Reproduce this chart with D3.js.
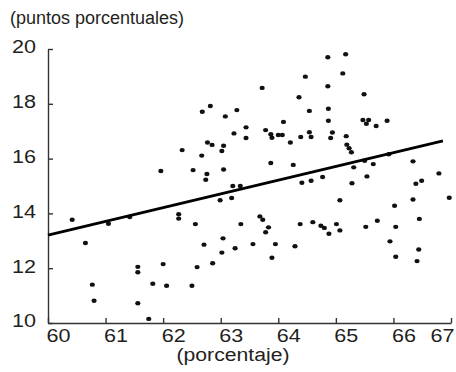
<!DOCTYPE html>
<html>
<head>
<meta charset="utf-8">
<script src="https://cdn.jsdelivr.net/npm/d3@7"></script>
<style>
  html, body { margin: 0; padding: 0; background: #fff; }
  svg { display: block; font-family: "Liberation Sans", Arial, sans-serif; }
</style>
</head>
<body>
<svg id="chart" width="456" height="372"></svg>
<script>
// Observations: x = percentage, y = percentage points
const xValues = [
  60.42, 61.05, 61.42, 60.65, 61.56, 61.56, 60.77, 61.82, 60.80, 61.56,
  61.75, 62.68, 62.82, 63.08, 63.28, 63.44, 63.23, 63.44, 62.77, 62.85,
  63.05, 63.02, 62.33, 62.67, 61.96, 62.52, 62.76, 62.74, 63.05, 63.21,
  63.34, 62.99, 63.19, 62.27, 62.27, 62.56, 63.35, 63.04, 62.71, 63.56,
  63.02, 63.25, 62.00, 62.59, 62.86, 62.06, 62.50, 64.86, 65.17, 65.12,
  64.47, 63.72, 64.86, 64.36, 64.54, 64.87, 64.87, 64.09, 63.78, 63.87,
  63.89, 64.00, 64.07, 64.21, 64.39, 64.54, 64.57, 64.94, 64.91, 65.18,
  65.19, 65.23, 65.27, 65.31, 63.87, 64.26, 64.41, 64.57, 64.77, 65.28,
  65.07, 63.68, 63.73, 63.83, 63.78, 64.38, 64.60, 64.74, 64.80, 64.88,
  65.01, 65.07, 63.95, 64.29, 63.89, 65.49, 65.47, 65.57, 65.53, 65.70,
  65.89, 65.50, 65.65, 65.54, 66.34, 66.79, 66.39, 66.49, 66.34, 66.97,
  66.02, 65.52, 65.72, 66.04, 66.45, 65.94, 66.04, 66.44, 66.41, 65.92
];
const yValues = [
  13.77, 13.62, 13.87, 12.92, 12.05, 11.85, 11.40, 11.43, 10.81, 10.72,
  10.15, 17.71, 17.92, 17.54, 17.77, 17.14, 16.92, 16.75, 16.59, 16.50,
  16.47, 16.28, 16.31, 16.11, 15.55, 15.58, 15.44, 15.23, 15.60, 15.00,
  15.00, 14.48, 14.56, 13.97, 13.81, 13.61, 13.61, 13.09, 12.86, 12.88,
  12.57, 12.73, 12.15, 12.04, 12.18, 11.36, 11.36, 19.70, 19.81, 19.11,
  18.99, 18.58, 18.64, 18.24, 17.74, 17.82, 17.38, 17.34, 17.04, 16.89,
  16.76, 16.86, 16.86, 16.59, 16.79, 16.96, 16.79, 16.95, 16.75, 16.82,
  16.51, 16.38, 16.23, 15.68, 15.84, 15.77, 15.12, 15.19, 15.33, 15.10,
  14.48, 13.89, 13.77, 13.49, 13.31, 13.61, 13.68, 13.55, 13.47, 13.26,
  13.61, 13.38, 12.88, 12.80, 12.38, 18.35, 17.41, 17.41, 17.27, 17.19,
  17.38, 15.92, 15.80, 15.35, 15.90, 15.46, 15.08, 15.19, 14.51, 14.57,
  14.28, 13.51, 13.73, 13.51, 13.80, 12.98, 12.42, 12.68, 12.26, 16.16
];

// Fitted trend line (endpoints)
const fitX = [60, 66.86];
const fitY = [13.21, 16.65];

const xTicks = [60, 61, 62, 63, 64, 65, 66, 67];
const yTicks = [10, 12, 14, 16, 18, 20];

const yUnitLabel = "(puntos porcentuales)";
const xUnitLabel = "(porcentaje)";

const svg = d3.select("#chart");
const textColor = "#231f20";
const axisColor = "#333";

const x = d3.scaleLinear().domain([60, 67]).range([48, 451]);
const y = d3.scaleLinear().domain([10, 20]).range([323, 49]);

// Axes
const xAxis = svg.append("g")
  .attr("transform", `translate(0,${y(10)})`)
  .call(d3.axisBottom(x).tickValues(xTicks).tickFormat(d3.format("d"))
    .tickSizeInner(-5).tickSizeOuter(0).tickPadding(0));

const yAxis = svg.append("g")
  .attr("transform", `translate(${x(60)},0)`)
  .call(d3.axisLeft(y).tickValues(yTicks).tickFormat(d3.format("d"))
    .tickSizeInner(-5).tickSizeOuter(0).tickPadding(0));

[xAxis, yAxis].forEach(g => {
  g.select(".domain").attr("stroke", axisColor).attr("stroke-width", 1.4);
  g.selectAll(".tick line").attr("stroke", axisColor).attr("stroke-width", 1.4);
  g.selectAll(".tick text")
    .attr("fill", textColor)
    .attr("font-family", "Liberation Sans, Arial, sans-serif")
    .attr("font-size", 18);
});

xAxis.selectAll(".tick text")
  .attr("y", 19)
  .attr("dy", 0)
  .attr("textLength", 24)
  .attr("lengthAdjust", "spacingAndGlyphs")
  .attr("text-anchor", "middle")
  .attr("x", d => d === 67 ? -9 : 10);

yAxis.selectAll(".tick text")
  .attr("x", -12)
  .attr("dy", "0.22em")
  .attr("textLength", 24)
  .attr("lengthAdjust", "spacingAndGlyphs")
  .attr("text-anchor", "end");

// Unit labels
svg.append("text")
  .attr("x", 10).attr("y", 23.5)
  .attr("font-size", 18)
  .attr("fill", textColor)
  .text(yUnitLabel);

svg.append("text")
  .attr("x", 233).attr("y", 361)
  .attr("text-anchor", "middle")
  .attr("font-size", 18)
  .attr("textLength", 113)
  .attr("lengthAdjust", "spacingAndGlyphs")
  .attr("fill", textColor)
  .text(xUnitLabel);

// Scatter points
const points = xValues.map((v, i) => ({ x: v, y: yValues[i] }));
svg.append("g")
  .selectAll("ellipse")
  .data(points)
  .join("ellipse")
  .attr("cx", d => x(d.x))
  .attr("cy", d => y(d.y))
  .attr("rx", 2.6)
  .attr("ry", 2.2)
  .attr("fill", "#111");

// Trend line
svg.append("line")
  .attr("x1", x(fitX[0])).attr("y1", y(fitY[0]))
  .attr("x2", x(fitX[1])).attr("y2", y(fitY[1]))
  .attr("stroke", "#000")
  .attr("stroke-width", 2.8);
</script>
</body>
</html>
